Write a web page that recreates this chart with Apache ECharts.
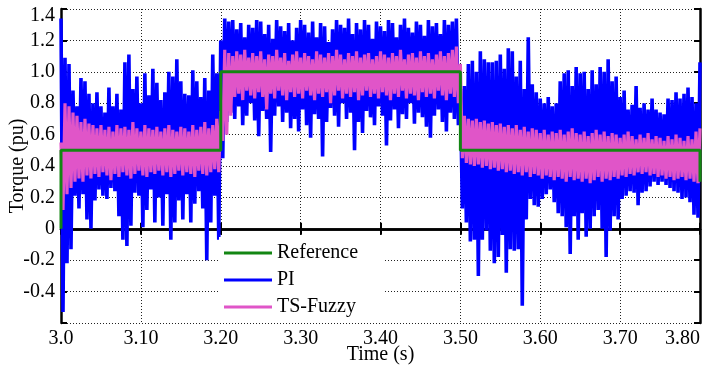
<!DOCTYPE html>
<html>
<head>
<meta charset="utf-8">
<script src="https://cdn.jsdelivr.net/npm/echarts@6/dist/echarts.min.js"></script>
<style>
  html, body { margin: 0; padding: 0; background: #fff; }
  #chart { width: 703px; height: 371px; }
</style>
</head>
<body>
<div id="chart"></div>
<script>
// Torque response, 3.0 .. 3.8 s. Peak / trough samples,
// one pair every 5 ms (peak at t, trough at t + 2.5 ms).
const tStart = 3.0
const halfStep = 0.0025

const piHigh = [
  1.34, 1.09, 1.05, 0.88, 0.78, 0.96, 0.94, 0.86, 0.80, 0.87,
  0.78, 0.74, 0.90, 0.78, 0.86, 0.76, 1.06, 1.11, 0.89, 0.97,
  0.80, 0.99, 0.85, 1.02, 0.93, 0.82, 0.87, 1.00, 0.97, 1.08,
  0.94, 0.86, 0.85, 1.01, 0.94, 0.84, 0.96, 0.88, 1.11, 0.99,
  1.20, 1.34, 1.32, 1.33, 1.27, 1.31, 1.22, 1.30, 1.28, 1.33,
  1.32, 1.24, 1.30, 1.21, 1.33, 1.29, 1.26, 1.31, 1.20, 1.28,
  1.33, 1.30, 1.25, 1.32, 1.22, 1.31, 1.29, 1.19, 1.27, 1.33,
  1.30, 1.28, 1.34, 1.24, 1.31, 1.27, 1.33, 1.30, 1.21, 1.32,
  1.29, 1.26, 1.33, 1.31, 1.22, 1.30, 1.34, 1.28, 1.25, 1.32,
  1.30, 1.23, 1.33, 1.29, 1.31, 1.24, 1.33, 1.30, 1.32, 1.34,
  0.89, 0.91, 1.05, 1.07, 1.00, 1.13, 1.08, 1.06, 1.06, 1.07,
  1.11, 1.02, 1.15, 1.13, 0.97, 1.07, 0.89, 1.22, 0.92, 0.87,
  0.83, 0.80, 0.84, 0.78, 0.80, 0.94, 0.99, 1.01, 0.91, 1.03,
  0.99, 1.00, 0.89, 1.01, 0.92, 1.03, 1.00, 1.08, 0.94, 0.97,
  0.84, 0.88, 0.76, 0.79, 0.91, 0.77, 0.80, 0.76, 0.83, 0.76,
  0.74, 0.73, 0.83, 0.82, 0.87, 0.83, 0.86, 0.90, 0.84, 0.80,
  1.06
]
const piLow = [
  -0.53, -0.22, -0.13, 0.21, 0.13, 0.22, 0.06, 0.00, 0.18, 0.25,
  0.21, 0.19, 0.26, 0.24, 0.08, -0.07, -0.11, 0.02, 0.23, 0.21,
  0.01, 0.12, 0.25, 0.04, 0.20, 0.02, 0.22, -0.07, 0.04, 0.18,
  0.06, 0.22, 0.04, 0.16, 0.24, 0.13, -0.20, 0.04, 0.21, -0.07,
  0.45, 0.68, 0.74, 0.70, 0.78, 0.66, 0.72, 0.80, 0.69, 0.59,
  0.75, 0.70, 0.49, 0.72, 0.78, 0.68, 0.74, 0.64, 0.70, 0.62,
  0.76, 0.66, 0.58, 0.73, 0.70, 0.46, 0.68, 0.77, 0.72, 0.65,
  0.80, 0.70, 0.74, 0.50, 0.68, 0.61, 0.75, 0.71, 0.66, 0.78,
  0.72, 0.53, 0.69, 0.76, 0.64, 0.73, 0.70, 0.80, 0.67, 0.74,
  0.71, 0.65, 0.58, 0.72, 0.76, 0.68, 0.62, 0.74, 0.70, 0.66,
  0.13, 0.04, -0.08, -0.07, -0.30, -0.07, -0.01, -0.14, -0.22, -0.18,
  -0.04, -0.28, -0.13, -0.14, -0.13, -0.49, 0.06, 0.19, 0.15, 0.14,
  0.19, 0.22, 0.25, 0.17, 0.10, 0.08, 0.01, -0.16, 0.08, -0.07,
  0.10, -0.05, 0.00, 0.08, 0.12, 0.00, -0.18, -0.01, 0.08, 0.06,
  0.19, 0.21, 0.24, 0.23, 0.15, 0.23, 0.24, 0.27, 0.30, 0.28,
  0.30, 0.28, 0.26, 0.24, 0.23, 0.19, 0.20, 0.17, 0.09, 0.07
]
const fuzzyHigh = [
  0.55, 0.80, 0.78, 0.74, 0.72, 0.68, 0.70, 0.67, 0.66, 0.64,
  0.66, 0.63, 0.65, 0.62, 0.66, 0.64, 0.65, 0.63, 0.68, 0.64,
  0.62, 0.66, 0.64, 0.63, 0.65, 0.62, 0.64, 0.66, 0.63, 0.62,
  0.65, 0.64, 0.62, 0.66, 0.63, 0.65, 0.68, 0.64, 0.66, 0.70,
  0.75, 1.14, 1.12, 1.10, 1.13, 1.11, 1.14, 1.09, 1.12, 1.10,
  1.13, 1.08, 1.11, 1.10, 1.14, 1.09, 1.12, 1.07, 1.11, 1.13,
  1.09, 1.12, 1.10, 1.08, 1.13, 1.11, 1.09, 1.12, 1.10, 1.14,
  1.11, 1.08, 1.12, 1.10, 1.13, 1.09, 1.11, 1.12, 1.08, 1.10,
  1.13, 1.11, 1.09, 1.12, 1.10, 1.14, 1.08, 1.11, 1.12, 1.09,
  1.13, 1.10, 1.12, 1.08, 1.11, 1.13, 1.10, 1.12, 1.14, 1.16,
  1.05, 0.72, 0.70, 0.69, 0.70, 0.68, 0.69, 0.67, 0.68, 0.66,
  0.67, 0.65, 0.66, 0.64, 0.66, 0.63, 0.65, 0.62, 0.64, 0.63,
  0.61, 0.63, 0.60, 0.62, 0.61, 0.63, 0.60, 0.62, 0.64, 0.61,
  0.60, 0.62, 0.59, 0.61, 0.63, 0.60, 0.62, 0.59, 0.61, 0.60,
  0.58, 0.60, 0.62, 0.59, 0.57, 0.60, 0.58, 0.61, 0.57, 0.59,
  0.58, 0.56, 0.59, 0.57, 0.60, 0.58, 0.56, 0.59, 0.57, 0.62,
  0.64
]
const fuzzyLow = [
  0.12, 0.22, 0.26, 0.30, 0.32, 0.30, 0.34, 0.32, 0.35, 0.33,
  0.36, 0.34, 0.31, 0.35, 0.33, 0.36, 0.34, 0.32, 0.35, 0.37,
  0.34, 0.33, 0.36, 0.35, 0.37, 0.34, 0.36, 0.33, 0.35, 0.37,
  0.34, 0.36, 0.35, 0.33, 0.37, 0.35, 0.34, 0.36, 0.38, 0.36,
  0.56, 0.60, 0.72, 0.84, 0.86, 0.82, 0.88, 0.85, 0.83, 0.87,
  0.84, 0.76, 0.86, 0.83, 0.88, 0.85, 0.82, 0.87, 0.84, 0.86,
  0.83, 0.88, 0.85, 0.82, 0.86, 0.84, 0.87, 0.80, 0.85, 0.88,
  0.83, 0.86, 0.84, 0.87, 0.82, 0.85, 0.88, 0.84, 0.86, 0.83,
  0.87, 0.85, 0.82, 0.86, 0.84, 0.88, 0.83, 0.86, 0.85, 0.82,
  0.87, 0.84, 0.86, 0.83, 0.88, 0.85, 0.82, 0.86, 0.84, 0.80,
  0.45, 0.42, 0.41, 0.40, 0.41, 0.39, 0.40, 0.38, 0.39, 0.37,
  0.38, 0.36, 0.37, 0.35, 0.36, 0.34, 0.36, 0.33, 0.35, 0.34,
  0.32, 0.34, 0.33, 0.31, 0.33, 0.32, 0.30, 0.33, 0.31, 0.32,
  0.30, 0.32, 0.29, 0.31, 0.33, 0.30, 0.32, 0.31, 0.33, 0.32,
  0.34, 0.33, 0.35, 0.34, 0.36, 0.35, 0.36, 0.34, 0.35, 0.33,
  0.34, 0.32, 0.33, 0.31, 0.32, 0.33, 0.31, 0.32, 0.30, 0.29
]

const refTime = [3.0, 3.0, 3.2, 3.2, 3.5, 3.5, 3.8, 3.8]
const refValue = [0, 0.5, 0.5, 1.0, 1.0, 0.5, 0.5, 0.3]

const xTickValues = [3.0, 3.1, 3.2, 3.3, 3.4, 3.5, 3.6, 3.7, 3.8]
const xTickLabels = ['3.0', '3.10', '3.20', '3.30', '3.40', '3.50', '3.60', '3.70', '3.80']
const yTickValues = [-0.4, -0.2, 0, 0.2, 0.4, 0.6, 0.8, 1.0, 1.2, 1.4]
const yTickLabels = ['-0.4', '-0.2', '0', '0.2', '0.4', '0.6', '0.8', '1.0', '1.2', '1.4']

// peak, trough, peak, trough ... on the 2.5 ms time base
function zigzag(highs, lows) {
  const out = []
  for (let i = 0; i < highs.length; i++) {
    out.push([+(tStart + 2 * i * halfStep).toFixed(4), highs[i]])
    if (i < lows.length) out.push([+(tStart + (2 * i + 1) * halfStep).toFixed(4), lows[i]])
  }
  return out
}

function pick(values, labels, v) {
  for (let k = 0; k < values.length; k++) {
    if (Math.abs(values[k] - v) < 1e-6) return labels[k]
  }
  return ''
}

const FONT = '"Liberation Serif", "DejaVu Serif", serif'
const BLUE = '#0000ff'
const PINK = '#e055c8'
const GREEN = '#138613'

const chart = echarts.init(document.getElementById('chart'), null, { renderer: 'canvas' })

const edgeAxis = {
  axisLine: { lineStyle: { color: '#000', width: 2.5 } },
  axisTick: { inside: true, length: 6, lineStyle: { color: '#000', width: 2 } },
}

chart.setOption({
  animation: false,
  backgroundColor: '#fff',
  grid: { left: 61, right: 3, top: 9, bottom: 48, containLabel: false, outerBoundsMode: 'none' },
  legend: {
    data: ['Reference', 'PI', 'TS-Fuzzy'],
    orient: 'vertical',
    left: 219,
    top: 237,
    padding: [6, 27, 6, 5],
    itemGap: 7,
    itemWidth: 48,
    itemHeight: 3,
    icon: 'rect',
    backgroundColor: '#fff',
    textStyle: { fontFamily: FONT, fontSize: 20, color: '#000', lineHeight: 20 },
  },
  xAxis: [
    {
      type: 'value', min: 3.0, max: 3.8, interval: 0.1,
      name: 'Time (s)', nameLocation: 'middle', nameGap: 22, nameMoveOverlap: false,
      nameTextStyle: { fontFamily: FONT, fontSize: 20, color: '#000' },
      ...edgeAxis,
      axisLabel: {
        margin: 6, color: '#000', fontFamily: FONT, fontSize: 20,
        alignMaxLabel: 'right',
        formatter: (v) => pick(xTickValues, xTickLabels, v),
      },
      splitLine: { show: true, lineStyle: { color: '#222', width: 1, type: [1, 2] } },
    },
    {
      type: 'value', min: 3.0, max: 3.8, interval: 0.1, position: 'top',
      ...edgeAxis,
      axisLabel: { show: false },
      splitLine: { show: false },
    },
  ],
  yAxis: [
    {
      type: 'value', min: -0.6, max: 1.4, interval: 0.2,
      name: 'Torque (pu)', nameLocation: 'middle', nameGap: 33, nameRotate: 90, nameMoveOverlap: false,
      nameTextStyle: { fontFamily: FONT, fontSize: 20, color: '#000' },
      ...edgeAxis,
      axisLabel: {
        margin: 6, color: '#000', fontFamily: FONT, fontSize: 20,
        formatter: (v) => {
          const s = pick(yTickValues, yTickLabels, v)
          return s === '1.4' ? '{top|1.4}' : s
        },
        rich: { top: { fontFamily: FONT, fontSize: 20, color: '#000', padding: [14, 0, 0, 0] } },
      },
      splitLine: { show: true, lineStyle: { color: '#222', width: 1, type: [1, 2] } },
    },
    {
      type: 'value', min: -0.6, max: 1.4, interval: 0.2, position: 'right',
      ...edgeAxis,
      axisLabel: { show: false },
      splitLine: { show: false },
    },
  ],
  series: [
    {
      name: 'PI', type: 'line', color: BLUE,
      data: zigzag(piHigh, piLow),
      showSymbol: false, symbol: 'none', sampling: null,
      lineStyle: { width: 3.6, color: BLUE },
      z: 2,
    },
    {
      name: 'TS-Fuzzy', type: 'line', color: PINK,
      data: zigzag(fuzzyHigh, fuzzyLow),
      showSymbol: false, symbol: 'none',
      lineStyle: { width: 3.2, color: PINK },
      z: 3,
    },
    {
      name: 'Reference', type: 'line', color: GREEN,
      data: refTime.map((t, i) => [t, refValue[i]]),
      showSymbol: false, symbol: 'none',
      lineStyle: { width: 3, color: GREEN },
      z: 4,
    },
  ],
})
</script>
</body>
</html>
